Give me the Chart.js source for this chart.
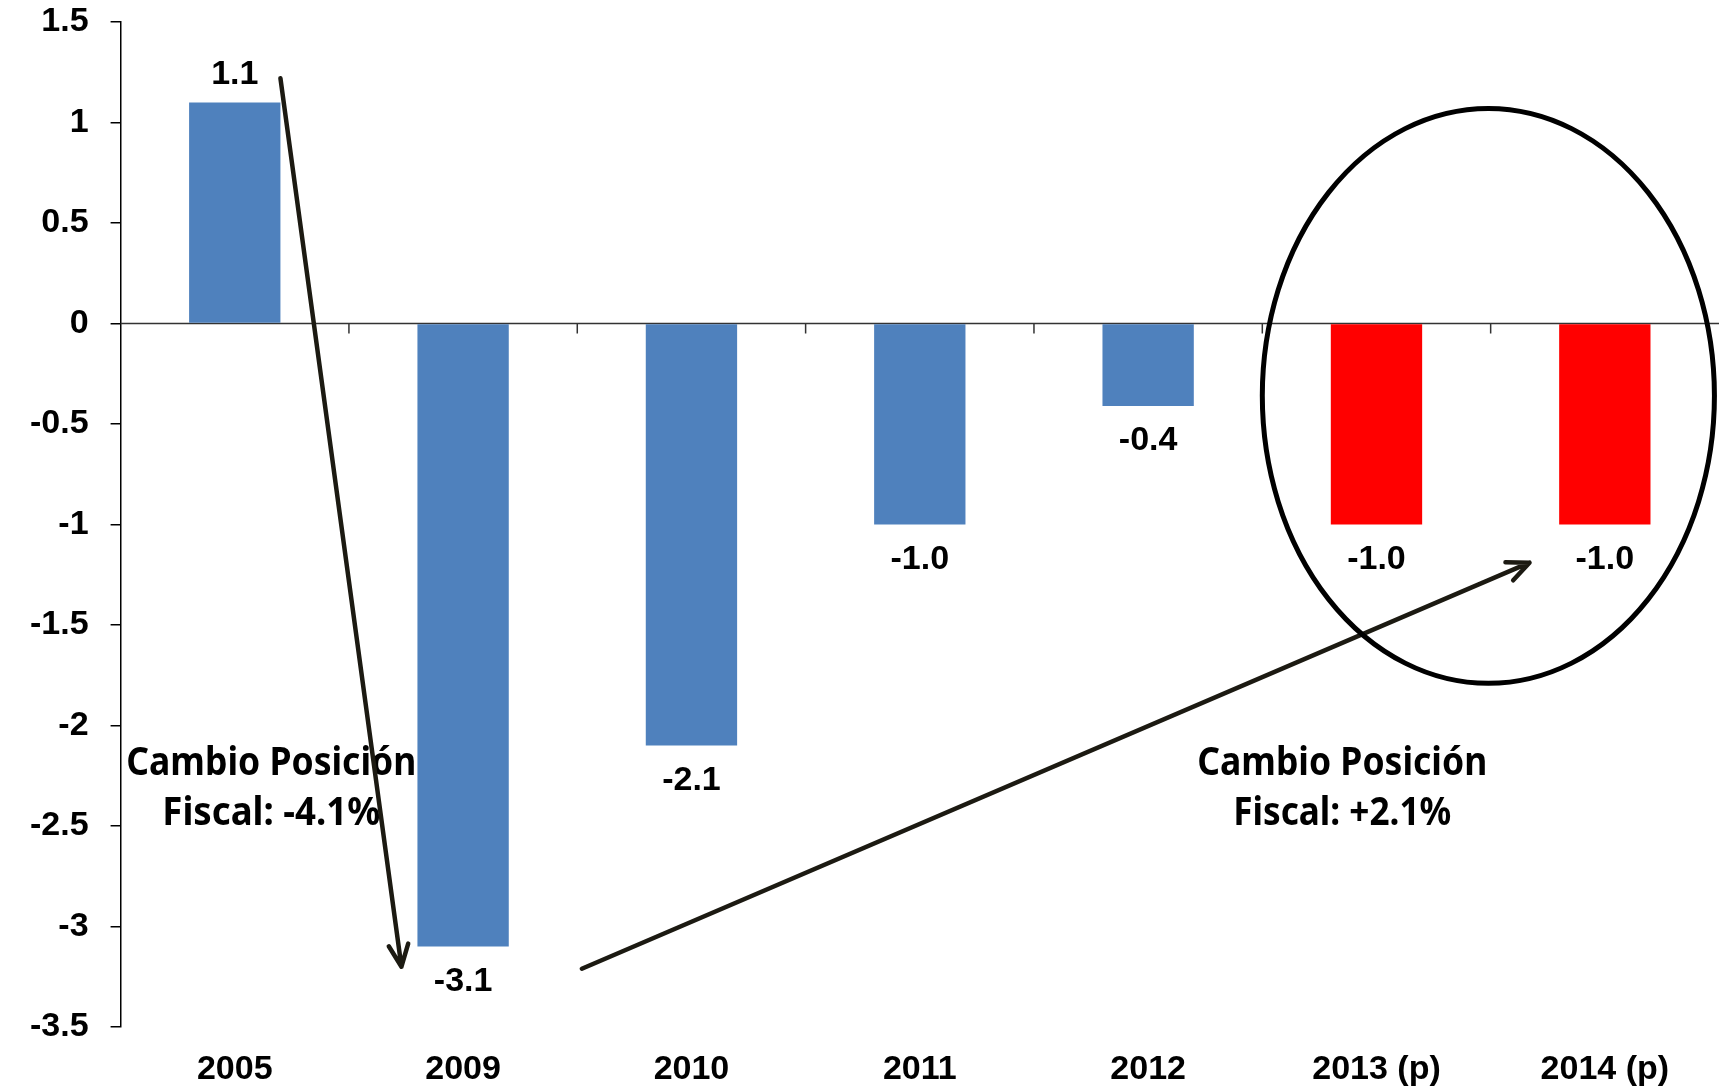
<!DOCTYPE html>
<html>
<head>
<meta charset="utf-8">
<script src="https://cdn.jsdelivr.net/npm/chart.js@4.4.1/dist/chart.umd.min.js"></script>
<style>
  html, body { margin: 0; padding: 0; background: #fff; }
  canvas { display: block; }
</style>
</head>
<body>
<canvas id="chart" width="1719" height="1088"></canvas>
<script>
// data
const years = ['2005', '2009', '2010', '2011', '2012', '2013 (p)', '2014 (p)'];
const balance = [1.1, -3.1, -2.1, -1.0, -0.41, -1.0, -1.0];
const balanceLabels = ['1.1', '-3.1', '-2.1', '-1.0', '-0.4', '-1.0', '-1.0'];
const projected = [false, false, false, false, false, true, true];
const yMin = -3.5;
const yMax = 1.5;
const yStep = 0.5;

// annotation anchors, in data units (category index, value)
const noteLeft = { x: 0.16, y: [-2.19, -2.44], lines: ['Cambio Posición', 'Fiscal: -4.1%'] };
const noteRight = { x: 4.85, y: [-2.19, -2.44], lines: ['Cambio Posición', 'Fiscal: +2.1%'] };
const arrowDown = { from: [0.20, 1.22], to: [0.73, -3.20] };
const arrowUp = { from: [1.52, -3.21], to: [5.67, -1.19] };
const ring = { x: 5.49, y: -0.36, rx: 0.99, ry: 1.43 };

const BLUE = '#4f81bd';
const RED = '#ff0000';
const INK = '#1c1a12';

function drawArrow(ctx, x1, y1, x2, y2) {
    const a = Math.atan2(y2 - y1, x2 - x1);
    const head = 24;
    const spread = 0.42;
    ctx.beginPath();
    ctx.moveTo(x1, y1);
    ctx.lineTo(x2, y2);
    ctx.moveTo(x2 - head * Math.cos(a - spread), y2 - head * Math.sin(a - spread));
    ctx.lineTo(x2, y2);
    ctx.lineTo(x2 - head * Math.cos(a + spread), y2 - head * Math.sin(a + spread));
    ctx.stroke();
}

const zeroAxis = {
    id: 'zeroAxis',
    beforeDatasetsDraw(chart) {
        const { ctx, scales: { x, y }, chartArea } = chart;
        const y0 = y.getPixelForValue(0);
        ctx.save();
        ctx.strokeStyle = '#333';
        ctx.lineWidth = 1.5;
        ctx.beginPath();
        ctx.moveTo(chartArea.left, y0);
        ctx.lineTo(chart.width, y0);
        for (let i = 1; i < years.length; i++) {
            const bx = (x.getPixelForValue(i - 1) + x.getPixelForValue(i)) / 2;
            ctx.moveTo(bx, y0);
            ctx.lineTo(bx, y0 + 10);
        }
        ctx.stroke();
        ctx.restore();
    },
};

const barLabels = {
    id: 'barLabels',
    afterDatasetsDraw(chart) {
        const { ctx } = chart;
        const meta = chart.getDatasetMeta(0);
        ctx.save();
        ctx.fillStyle = '#000';
        ctx.font = 'bold 34px "Liberation Sans", Arial, sans-serif';
        ctx.textAlign = 'center';
        ctx.textBaseline = 'middle';
        meta.data.forEach((bar, i) => {
            const off = balance[i] >= 0 ? -28 : 35;
            ctx.fillText(balanceLabels[i], bar.x, bar.y + off);
        });
        ctx.restore();
    },
};

const notes = {
    id: 'notes',
    afterDraw(chart) {
        const { ctx, scales: { x, y } } = chart;
        ctx.save();
        ctx.fillStyle = '#000';
        ctx.font = 'bold 40px "Noto Sans", "Open Sans", sans-serif';
        ctx.textAlign = 'center';
        ctx.textBaseline = 'middle';
        [noteLeft, noteRight].forEach(n => {
            const cx = x.getPixelForValue(n.x);
            ctx.fillText(n.lines[0], cx, y.getPixelForValue(n.y[0]), 290);
            ctx.fillText(n.lines[1], cx, y.getPixelForValue(n.y[1]), 218);
        });

        ctx.strokeStyle = INK;
        ctx.lineWidth = 4.5;
        ctx.lineCap = 'round';
        ctx.lineJoin = 'round';
        [arrowDown, arrowUp].forEach(ar => {
            drawArrow(ctx,
                x.getPixelForValue(ar.from[0]), y.getPixelForValue(ar.from[1]),
                x.getPixelForValue(ar.to[0]), y.getPixelForValue(ar.to[1]));
        });

        const cx = x.getPixelForValue(ring.x);
        const cy = y.getPixelForValue(ring.y);
        const rx = x.getPixelForValue(ring.x + ring.rx) - cx;
        const ry = y.getPixelForValue(ring.y - ring.ry) - cy;
        ctx.strokeStyle = '#000';
        ctx.lineWidth = 5;
        ctx.beginPath();
        ctx.ellipse(cx, cy, rx, ry, 0, 0, Math.PI * 2);
        ctx.stroke();
        ctx.restore();
    },
};

const tickFont = { family: '"Liberation Sans", Arial, sans-serif', size: 34, weight: 'bold' };

new Chart(document.getElementById('chart'), {
    type: 'bar',
    data: {
        labels: years,
        datasets: [
            {
                data: balance,
                backgroundColor: projected.map(p => (p ? RED : BLUE)),
                barPercentage: 0.4,
                categoryPercentage: 1,
            },
        ],
    },
    options: {
        responsive: false,
        animation: false,
        layout: { padding: { left: 8, top: 0, right: 0, bottom: 0 } },
        plugins: {
            legend: { display: false },
            tooltip: { enabled: false },
        },
        scales: {
            x: {
                grid: { display: false, drawTicks: false },
                border: { display: false },
                ticks: { color: '#000', font: tickFont, padding: 22, maxRotation: 0 },
                afterFit(scale) {
                    scale.paddingLeft = 0;
                    scale.paddingRight = 0;
                    scale.height = 61;
                },
            },
            y: {
                min: yMin,
                max: yMax,
                grid: { drawOnChartArea: false, color: '#000', tickLength: 10, lineWidth: 1.5 },
                border: { color: '#000', width: 1.5 },
                ticks: {
                    stepSize: yStep,
                    color: '#000',
                    font: tickFont,
                    padding: 22,
                    callback: v => String(Number(v.toFixed(2))),
                },
                afterFit(scale) {
                    scale.paddingTop = 22;
                    scale.paddingBottom = 0;
                },
            },
        },
    },
    plugins: [zeroAxis, barLabels, notes],
});
</script>
</body>
</html>
